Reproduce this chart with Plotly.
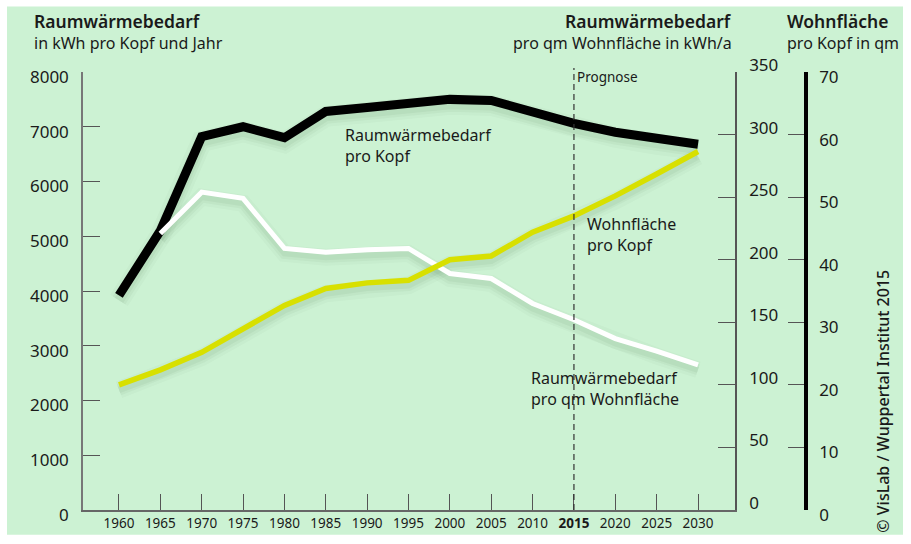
import plotly.graph_objects as go

years = [1960, 1965, 1970, 1975, 1980, 1985, 1990, 1995, 2000, 2005, 2010, 2015, 2020, 2025, 2030]
# Raumwärmebedarf pro Kopf (kWh pro Kopf und Jahr) – left axis
heat_per_capita = [3920, 5100, 6820, 7000, 6800, 7280, 7350, 7440, 7500, 7480, 7260, 7060, 6900, 6770, 6680]
# Raumwärmebedarf pro qm Wohnfläche (kWh/a) – right axis 1 (starts 1965)
heat_years = years[1:]
heat_per_sqm = [221, 254, 249, 209, 206, 208, 209, 189, 185, 165, 152, 137, 127, 116]
# Wohnfläche pro Kopf (qm) – right axis 2
living_space = [20.0, 22.4, 25.2, 28.9, 32.7, 35.4, 36.3, 36.7, 40.0, 40.6, 44.4, 47.0, 50.2, 53.7, 57.3]

x_ticks = years
x_ticktext = [("<b>%d</b>" % y if y == 2015 else str(y)) for y in years]
left_ticks = [0, 1000, 2000, 3000, 4000, 5000, 6000, 7000, 8000]
right1_ticks = [0, 50, 100, 150, 200, 250, 300, 350]
right2_ticks = [0, 10, 20, 30, 40, 50, 60, 70]

W, H = 911, 544
ML, MR, MT, MB = 83, 105, 72, 31
PW = W - ML - MR
PH = H - MT - MB


def px(xpix):
    return (xpix - ML) / PW


def py(ypix):
    return (H - MB - ypix) / PH


GREEN = "#CCF2D3"
YELLOW = "#D8E000"
FONT = "Noto Sans"
TXT = "#1a1a1a"
SHADOW_PX = 5  # drop shadow offset in pixels

fig = go.Figure()

# soft drop shadows: same data on hidden axes (y, y2, y3) shifted a few pixels down;
# these subplots are drawn first, so the real lines (y4, y5, y6) sit on top.
for xs, ys, ax, w in [(heat_years, heat_per_sqm, "y2", 5), (years, living_space, "y3", 5.5),
                      (years, heat_per_capita, "y", 9)]:
    for extra, alpha in [(12, 0.022), (6, 0.035), (1, 0.045)]:
        fig.add_trace(go.Scatter(x=xs, y=ys, mode="lines", yaxis=ax,
                                 line=dict(color="rgba(0,50,10,%.3f)" % alpha, width=w + extra),
                                 hoverinfo="skip"))

fig.add_trace(go.Scatter(x=heat_years, y=heat_per_sqm, mode="lines", yaxis="y5",
                         line=dict(color="white", width=5), hoverinfo="skip"))
fig.add_trace(go.Scatter(x=years, y=living_space, mode="lines", yaxis="y6",
                         line=dict(color=YELLOW, width=5.5), hoverinfo="skip"))
fig.add_trace(go.Scatter(x=years, y=heat_per_capita, mode="lines", yaxis="y4",
                         line=dict(color="black", width=9), hoverinfo="skip"))

xdom_end = (735 - ML) / PW


def shifted(top):
    d = SHADOW_PX * top / PH
    return [d, top + d]


hidden = dict(visible=False, anchor="x", showgrid=False, zeroline=False)

fig.update_layout(
    width=W, height=H,
    margin=dict(l=ML, r=MR, t=MT, b=MB, pad=0),
    paper_bgcolor="white", plot_bgcolor="rgba(0,0,0,0)",
    showlegend=False,
    font=dict(family=FONT, color=TXT),
    xaxis=dict(domain=[0, xdom_end], range=[1955.65, 2034.47],
               tickvals=x_ticks, ticktext=x_ticktext,
               ticks="inside", ticklen=16, tickwidth=1.2, tickcolor="#555",
               showline=True, linecolor="#666", linewidth=1.5,
               showgrid=False, zeroline=False,
               tickfont=dict(size=13.5, color=TXT, family=FONT)),
    yaxis=dict(range=shifted(8000), **hidden),
    yaxis2=dict(range=shifted(350), overlaying="y", **hidden),
    yaxis3=dict(range=shifted(70), overlaying="y", **hidden),
    yaxis4=dict(range=[0, 8000], tickvals=left_ticks, overlaying="y", side="left",
                anchor="x",
                ticks="inside", ticklen=17, tickwidth=1.2, tickcolor="#555",
                showline=True, linecolor="#777", linewidth=1.5,
                showgrid=False, zeroline=False, ticklabelstandoff=9,
                ticklabelshift=5,
                tickfont=dict(size=17, color=TXT, family=FONT)),
    yaxis5=dict(range=[0, 350], tickvals=right1_ticks, overlaying="y", side="right",
                anchor="x", ticks="inside", ticklen=17, tickwidth=1.2, tickcolor="#555",
                showline=True, linecolor="#555", linewidth=1.5,
                showgrid=False, zeroline=False, ticklabelstandoff=9,
                ticklabelshift=-7,
                tickfont=dict(size=17, color=TXT, family=FONT)),
    yaxis6=dict(range=[0, 70], tickvals=right2_ticks, overlaying="y", side="right",
                anchor="free", position=1.0,
                ticks="inside", ticklen=16, tickwidth=1.2, tickcolor="#555",
                showline=True, linecolor="black", linewidth=3.5,
                showgrid=False, zeroline=False, ticklabelstandoff=8,
                ticklabelshift=5,
                tickfont=dict(size=17, color=TXT, family=FONT)),
)

# background panel
fig.add_shape(type="rect", xref="paper", yref="paper", layer="below",
              x0=px(7), x1=px(903), y0=py(538), y1=py(6),
              fillcolor=GREEN, line=dict(width=0))

# forecast line
fig.add_shape(type="line", xref="x", yref="paper", x0=2015, x1=2015,
              y0=0, y1=py(68), line=dict(color="#333", width=1.2, dash="6px,4px"))


def ann(text, xpix, ypix, size=16, weight="normal", xanchor="left", yanchor="middle"):
    fig.add_annotation(text=text, xref="paper", yref="paper", x=px(xpix), y=py(ypix),
                       xanchor=xanchor, yanchor=yanchor, showarrow=False, align=xanchor,
                       font=dict(size=size, family=FONT, color=TXT, weight=weight))


ann("Raumwärmebedarf", 32, 21, 17.5, 600)
ann("in kWh pro Kopf und Jahr", 32, 43, 16)
ann("Raumwärmebedarf", 734, 21, 17.5, 600, xanchor="right")
ann("pro qm Wohnfläche in kWh/a", 734, 43, 16, xanchor="right")
ann("Wohnfläche", 785, 21, 17.5, 600)
ann("pro Kopf in qm", 785, 43, 16)
ann("Prognose", 575, 77, 13.5)

ann("Raumwärmebedarf<br>pro Kopf", 343, 146, 16)
ann("Wohnfläche<br>pro Kopf", 585, 236, 16)
ann("Raumwärmebedarf<br>pro qm Wohnfläche", 529, 391, 16)

fig.add_annotation(text="© VisLab / Wuppertal Institut 2015", xref="paper", yref="paper",
                   x=px(883), y=py(404), textangle=-90, showarrow=False,
                   xanchor="center", yanchor="middle",
                   font=dict(size=16, family=FONT, color=TXT, weight=500))

fig.write_html("out.html")
